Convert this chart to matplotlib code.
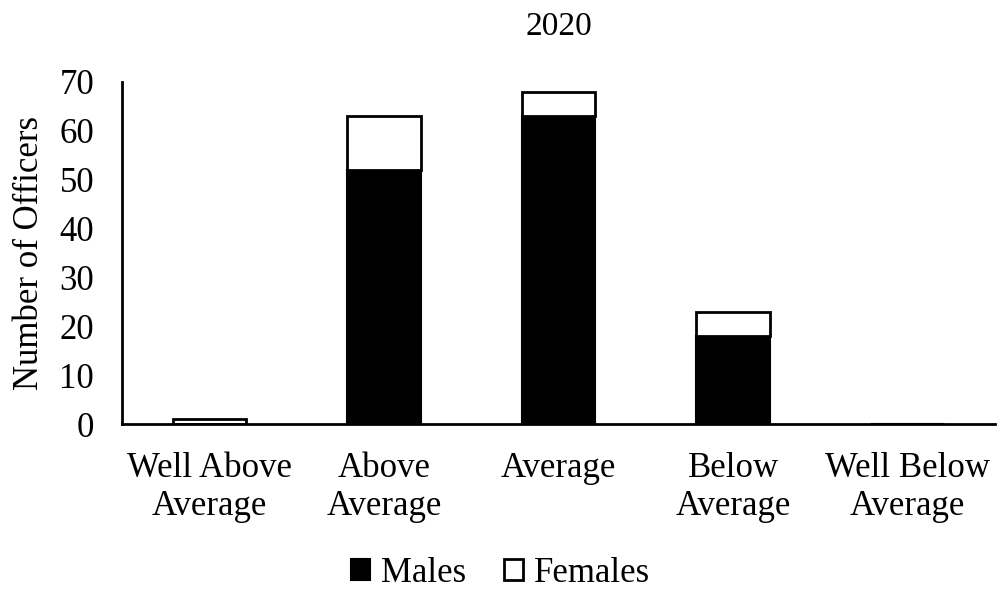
import matplotlib
matplotlib.use("Agg")
import matplotlib.pyplot as plt
import numpy as np

categories = ["Well Above\nAverage", "Above\nAverage", "Average", "Below\nAverage", "Well Below\nAverage"]
males = [0, 52, 63, 18, 0]
females = [1, 11, 5, 5, 0]

plt.rcParams['font.family'] = ['Liberation Serif', 'DejaVu Serif']

fig = plt.figure(figsize=(10.01, 5.89), dpi=100)
ax = fig.add_axes([0.1219, 0.280, 0.872, 0.581])
x = np.arange(len(categories))
w = 0.42
ax.bar(x, males, w, color='black', edgecolor='black', linewidth=1.5, label='Males')
ax.bar(x, females, w, bottom=males, color='white', edgecolor='black', linewidth=2, label='Females')

ax.set_xlim(-0.5, 4.5)
ax.set_ylim(0, 70)
ax.set_yticks(range(0, 71, 10))
ax.set_xticks(x)
ax.set_xticklabels(categories, fontsize=25, linespacing=1.2)
ax.tick_params(axis='y', labelsize=25, length=0, pad=20)
ax.tick_params(axis='x', length=0, pad=20)
for s in ['top', 'right']:
    ax.spines[s].set_visible(False)
ax.spines['left'].set_linewidth(2)
ax.spines['bottom'].set_linewidth(2)
ax.set_ylabel("Number of Officers", fontsize=25, labelpad=10)
ax.set_title("2020", fontsize=24, pad=34)

fig.legend(loc='lower center', bbox_to_anchor=(0.5, -0.055), ncol=2, frameon=False,
           fontsize=25, handlelength=0.55, handleheight=0.55, handletextpad=0.3, columnspacing=1.1)
fig.savefig("out.png", dpi=100)
